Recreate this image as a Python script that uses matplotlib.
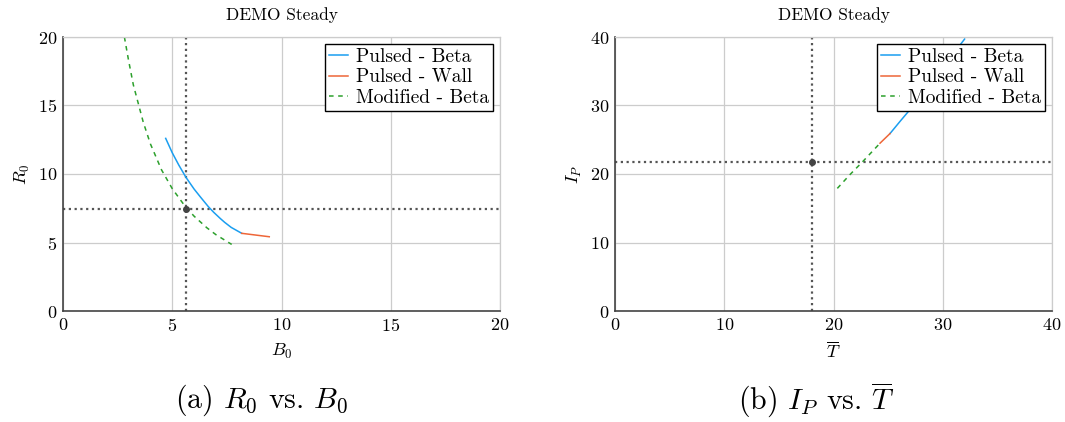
import matplotlib
matplotlib.use("Agg")
import matplotlib.pyplot as plt

plt.rcParams['font.family'] = ['cmr10', 'DejaVu Serif']
plt.rcParams['mathtext.fontset'] = 'cm'
plt.rcParams['axes.formatter.use_mathtext'] = True

# ---- data: panel (a) R0 vs B0 ----
a_beta_B = [4.70, 5.00, 5.30, 5.63, 6.00, 6.30, 6.65, 6.90, 7.20, 7.40, 7.70, 8.18]
a_beta_R = [12.6, 11.55, 10.65, 9.75, 8.90, 8.30, 7.62, 7.20, 6.75, 6.47, 6.10, 5.67]
a_wall_B = [8.18, 9.44]
a_wall_R = [5.67, 5.42]
a_mod_B = [2.81, 3.00, 3.22, 3.67, 4.00, 4.51, 5.00, 5.58, 6.00, 6.58, 7.00, 7.72]
a_mod_R = [20.0, 18.3, 16.5, 13.8, 12.2, 10.3, 8.93, 7.66, 6.92, 6.08, 5.57, 4.86]
a_ref_B = 5.63
a_ref_R = 7.45

# ---- data: panel (b) IP vs T ----
b_beta_T = [25.17, 26.10, 27.16, 28.30, 29.50, 30.70, 32.00]
b_beta_I = [25.9, 27.7, 29.7, 32.0, 34.4, 37.0, 39.7]
b_wall_T = [24.26, 25.17]
b_wall_I = [24.5, 25.9]
b_mod_T = [20.35, 21.50, 22.73, 24.26]
b_mod_I = [17.9, 19.9, 21.9, 24.5]
b_ref_T = 18.03
b_ref_I = 21.7

a_ticks = [0, 5, 10, 15, 20]
b_ticks = [0, 10, 20, 30, 40]
labels = ['Pulsed - Beta', 'Pulsed - Wall', 'Modified - Beta']

C_BLUE = '#1a9ef0'
C_ORANGE = '#ee6638'
C_GREEN = '#2ca02c'
C_REF = '#555555'

fig = plt.figure(figsize=(10.65, 4.22), dpi=100)
ax1 = fig.add_axes([63/1065, 111/422, 437/1065, 274/422])
ax2 = fig.add_axes([615/1065, 111/422, 437/1065, 274/422])


def style(ax, ticks):
    ax.set_xlim(ticks[0], ticks[-1])
    ax.set_ylim(ticks[0], ticks[-1])
    ax.set_xticks(ticks)
    ax.set_yticks(ticks)
    ax.grid(True, color='#cccccc', linewidth=0.9)
    ax.set_axisbelow(True)
    ax.tick_params(length=0, labelsize=13, pad=4)
    for s in ['left', 'bottom']:
        ax.spines[s].set_color('#444444')
        ax.spines[s].set_linewidth(1.2)
    for s in ['top', 'right']:
        ax.spines[s].set_color('#cccccc')
        ax.spines[s].set_linewidth(0.9)
    ax.set_title('DEMO Steady', fontsize=12.5, pad=12)


def panel(ax, bx, by, wx, wy, mx, my, rx, ry):
    ax.plot(bx, by, color=C_BLUE, lw=1.1, label=labels[0])
    ax.plot(wx, wy, color=C_ORANGE, lw=1.1, label=labels[1])
    ax.plot(mx, my, color=C_GREEN, lw=1.1, ls=(0, (3, 3)), label=labels[2])
    ax.axvline(rx, color=C_REF, lw=1.6, ls=(0, (1, 1.6)), zorder=1.5)
    ax.axhline(ry, color=C_REF, lw=1.6, ls=(0, (1, 1.6)), zorder=1.5)
    ax.plot([rx], [ry], 'o', color='#444444', ms=4, zorder=5)
    leg = ax.legend(loc='upper right', fontsize=14, frameon=True, fancybox=False,
                    edgecolor='black', framealpha=1, borderpad=0.2,
                    handlelength=1.0, handletextpad=0.4, labelspacing=0.15,
                    borderaxespad=0.35)
    leg.get_frame().set_linewidth(1.0)


panel(ax1, a_beta_B, a_beta_R, a_wall_B, a_wall_R, a_mod_B, a_mod_R, a_ref_B, a_ref_R)
panel(ax2, b_beta_T, b_beta_I, b_wall_T, b_wall_I, b_mod_T, b_mod_I, b_ref_T, b_ref_I)
style(ax1, a_ticks)
style(ax2, b_ticks)

ax1.set_xlabel(r'$B_0$', fontsize=13, labelpad=6)
ax1.set_ylabel(r'$R_0$', fontsize=13, labelpad=4)
ax2.set_xlabel(r'$\overline{T}$', fontsize=13, labelpad=6)
ax2.set_ylabel(r'$I_P$', fontsize=13, labelpad=4)

fig.text(262/1065, 1 - 400/422, r'(a) $R_0$ vs. $B_0$', fontsize=21.5,
         ha='center', va='center')
fig.text(816/1065, 1 - 400/422, r'(b) $I_P$ vs. $\overline{T}$', fontsize=21.5,
         ha='center', va='center')

fig.savefig('out.png', dpi=100)
